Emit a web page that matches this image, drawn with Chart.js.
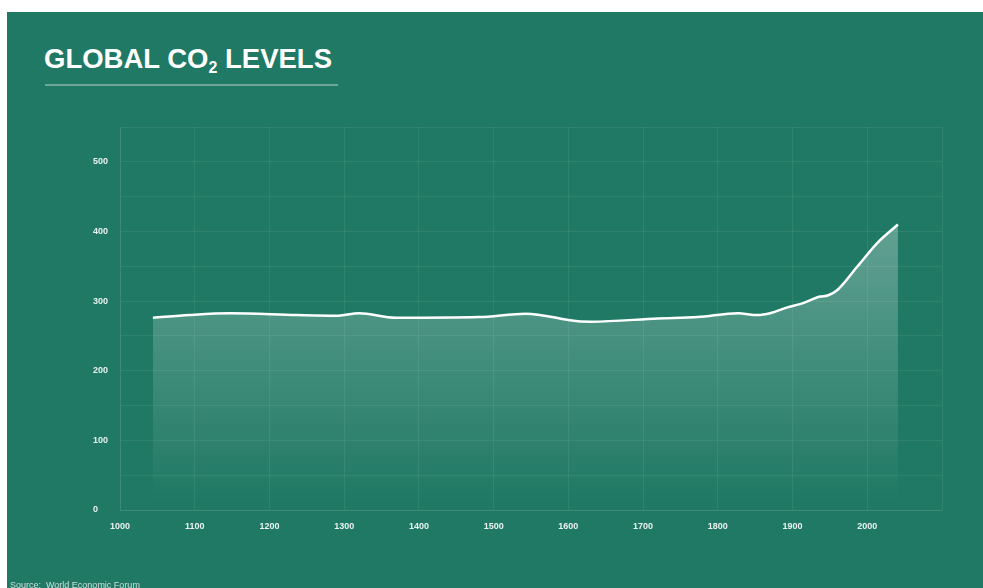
<!DOCTYPE html>
<html>
<head>
<meta charset="utf-8">
<script src="https://cdn.jsdelivr.net/npm/chart.js@4"></script>
<style>
  html, body { margin: 0; padding: 0; background: #ffffff; width: 983px; height: 588px; overflow: hidden; }
  #bg { position: absolute; left: 7px; top: 12px; right: 0; bottom: 0; background: #1f7964; }
  #title { position: absolute; left: 44px; top: 43px; font-family: "Liberation Sans", Arial, sans-serif; font-weight: bold; font-size: 27.5px; color: #ffffff; white-space: nowrap; line-height: 32px; }
  #title sub { font-size: 16px; vertical-align: -5px; line-height: 0; }
  #rule { position: absolute; left: 45px; top: 84px; width: 293px; height: 2px; background: rgba(255,255,255,0.35); }
  #source { position: absolute; left: 10px; top: 580px; font-family: "Liberation Sans", Arial, sans-serif; font-size: 9px; color: rgba(255,255,255,0.75); white-space: nowrap; }
  #wrap { position: absolute; left: 0; top: 0; width: 983px; height: 588px; }
</style>
</head>
<body>
<div id="bg"></div>
<div id="title">GLOBAL CO<sub>2</sub> LEVELS</div>
<div id="rule"></div>
<div id="wrap"><canvas id="c" width="983" height="588"></canvas></div>
<div id="source">Source:&nbsp; World Economic Forum</div>
<script>
// Data
const years = [1044, 1093, 1147, 1236, 1289, 1320, 1369, 1480, 1543, 1613, 1631, 1720, 1773, 1827, 1853, 1871, 1893, 1911, 1937, 1947, 1960, 1987, 2013, 2041];
const co2   = [276, 280, 282.5, 280, 279, 282.5, 276, 277, 282, 271, 270.5, 275, 277, 282.5, 280, 283, 291, 296, 306.5, 308, 316, 350, 383, 410];
const xTickLabels = ['1000','1100','1200','1300','1400','1500','1600','1700','1800','1900','2000'];
const yTickLabels = ['0','100','200','300','400','500'];

const points = years.map((y, i) => ({ x: y, y: co2[i] }));

const gridColor = 'rgba(255,255,255,0.07)';
const tickFont = { family: '"Liberation Sans", Arial, sans-serif', size: 9, weight: 'bold' };

new Chart(document.getElementById('c'), {
  type: 'line',
  data: {
    datasets: [{
      data: points,
      borderColor: '#ffffff',
      borderWidth: 2.5,
      pointRadius: 0,
      tension: 0.4,
      cubicInterpolationMode: 'monotone',
      fill: 'origin',
      backgroundColor: (ctx) => {
        const chart = ctx.chart;
        const area = chart.chartArea;
        if (!area) return 'rgba(255,255,255,0.2)';
        const g = chart.ctx.createLinearGradient(0, 225, 0, 505);
        g.addColorStop(0, 'rgba(255,255,255,0.30)');
        g.addColorStop(1, 'rgba(255,255,255,0.0)');
        return g;
      }
    }]
  },
  options: {
    responsive: false,
    animation: false,
    layout: { padding: { left: 93, top: 127, right: 41, bottom: 0 } },
    plugins: { legend: { display: false }, tooltip: { enabled: false }, title: { display: false } },
    scales: {
      x: {
        type: 'linear',
        min: 1000, max: 2100,
        afterFit: (s) => { s.height = 78; },
        grid: { color: gridColor, drawTicks: false },
        border: { color: gridColor },
        ticks: {
          stepSize: 100,
          padding: 11,
          color: 'rgba(255,255,255,0.9)',
          font: tickFont,
          maxRotation: 0,
          autoSkip: false,
          callback: (v) => xTickLabels.includes(String(v)) ? String(v) : ''
        }
      },
      y: {
        min: 0, max: 550,
        afterFit: (s) => { s.width = 27; },
        grid: { color: gridColor, drawTicks: false },
        border: { color: gridColor },
        ticks: {
          stepSize: 50,
          crossAlign: 'far',
          color: 'rgba(255,255,255,0.9)',
          font: tickFont,
          autoSkip: false,
          callback: (v) => yTickLabels.includes(String(v)) ? String(v) : ''
        }
      }
    }
  }
});
</script>
</body>
</html>
